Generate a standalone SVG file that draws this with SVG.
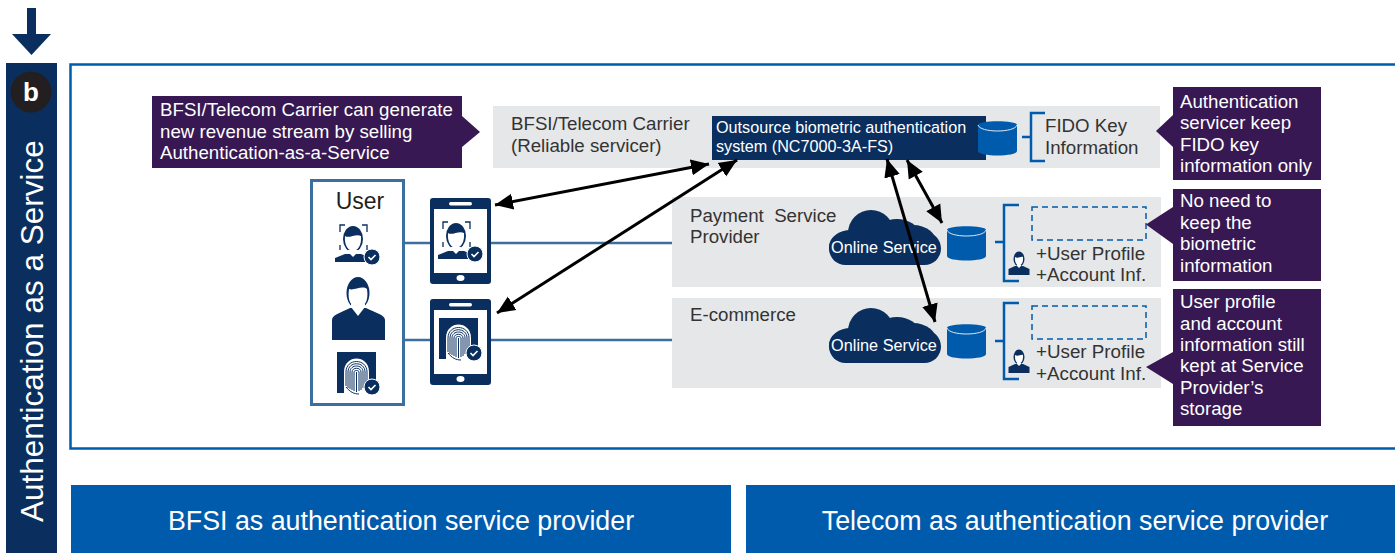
<svg xmlns="http://www.w3.org/2000/svg" width="1395" height="553" viewBox="0 0 1395 553">
<style>
text{font-family:"Liberation Sans",Arial,sans-serif}
.w{fill:#fff}.d{fill:#333}.grey{fill:#e6e7e8}.navy{fill:#0a2f5f}.pur{fill:#371853}.blue{fill:#005bac}
.t18{font-size:18.700px}.t17{font-size:18.800px}.os{font-size:16.300px}.sys{font-size:16.200px}.bot{font-size:26.800px}
.br{fill:none;stroke:#005bac;stroke-width:2.5}
.dash{fill:none;stroke:#005bac;stroke-width:1.5;stroke-dasharray:6 4}
.ar{fill:none;stroke:#000;stroke-width:3;marker-start:url(#ah);marker-end:url(#ah)}
.ln{fill:none;stroke:#3a6fa0;stroke-width:2.5}
</style>
<defs>
<marker id="ah" markerUnits="userSpaceOnUse" markerWidth="20" markerHeight="18" refX="18" refY="8" orient="auto-start-reverse" viewBox="0 0 20 16"><path d="M0 0L18 8L0 16z" fill="#000"/></marker>
<g id="db"><path d="M0 6C0 1 39 1 39 6V32C39 38 0 38 0 32z" class="blue"/><path d="M0 6C2 14 37 14 39 6" fill="none" stroke="#e6e7e8" stroke-width="1"/></g>
<g id="check"><circle r="8" fill="#0a2f5f" stroke="#fff" stroke-width="1"/><path d="M-3.500 0L-1 2.500L3.500-2" fill="none" stroke="#fff" stroke-width="1.600"/></g>
<g id="face"><path d="M-18 17V13L-8 9H8L18 13V17z" class="navy"/><ellipse cx="0" cy="-6" rx="10" ry="13" class="navy"/><path d="M-8-9C-4-6 3-12 8-9C9 1 4 6 0 6C-4 6-9 1-8-9z" fill="#fff"/><path d="M-5 7L0 12L5 7V5H-5z" fill="#fff"/>
<path d="M-13-13V-20H-8M9-20H14V-13M-13 0V5M14 0V5" fill="none" stroke="#0a2f5f" stroke-width="1.300"/></g>
<g id="print"><path d="M-19-24H20V5H-10V17H-19z" class="navy"/><path d="M-12 18V-4C-12-22 13-22 13-4V20H-12z" fill="#fff"/>
<g fill="none" stroke="#0a2f5f" stroke-width="1"><path d="M-10 10V-4C-10-18 11-18 11-4V8"/><path d="M-8 12V-4C-8-15 9-15 9-4V10"/><path d="M-6 13V-4C-6-12 7-12 7-4V12"/><path d="M-4 14V-4C-4-9 5-9 5-4V14"/><path d="M-2 15V-4C-2-6 3-6 3-4V15"/><path d="M0.500-4V16"/><path d="M-10 11C-6 16-2 18 3 18"/></g></g>
<g id="person"><path d="M-10.500 12V6L-4 3H4L10.500 6V12z" class="navy"/><ellipse cx="0" cy="-4" rx="5.500" ry="7.500" class="navy"/><path d="M-4-6C-1-4 2-7 4-6C4.500 0 2 2.500 0 2.500C-2 2.500-4.500 0-4-6z" fill="#fff"/><path d="M-2 3L0 5L2 3V2H-2z" fill="#fff"/></g>
<g id="cloud" class="navy"><rect x="0" y="22" width="112" height="33" rx="16.500"/><circle cx="42" cy="23" r="23"/><ellipse cx="68" cy="24" rx="22" ry="15"/><ellipse cx="84" cy="34" rx="24" ry="19"/><ellipse cx="22" cy="37" rx="22" ry="17"/></g>
<g id="phone"><rect x="0" y="0" width="61" height="86" rx="3" class="navy"/><rect x="4" y="11" width="53" height="64" fill="#fff"/><rect x="19" y="4" width="23" height="3.500" rx="1.700" fill="#fff"/><ellipse cx="30.500" cy="80" rx="4" ry="3" fill="#fff"/></g>
</defs>
<path id="top-arrow" class="navy" d="M27 8H36V34H51L31.500 55L12 34H27z"/>
<g id="sidebar"><rect x="6" y="63" width="51" height="490" class="navy"/><circle cx="31" cy="92" r="20.500" fill="#231f20"/><text x="31" y="101" text-anchor="middle" class="w" font-size="26" font-weight="700">b</text><text transform="translate(43 522) rotate(-90)" class="w" font-size="31.500">Authentication as a Service</text></g>
<rect id="frame" x="70.500" y="64.500" width="1340" height="384" fill="#fff" stroke="#005bac" stroke-width="2.500"/>
<g id="carrier"><rect x="493" y="106" width="667" height="62" class="grey"/><text class="d t18" x="511" y="130">BFSI/Telecom Carrier</text><text class="d t18" x="511" y="152">(Reliable servicer)</text></g>
<g id="payment"><rect x="672" y="197" width="489" height="90" class="grey"/><text class="d t18" x="690" y="222" xml:space="preserve">Payment  Service</text><text class="d t18" x="690" y="243">Provider</text></g>
<g id="ecommerce"><rect x="672" y="298" width="489" height="90" class="grey"/><text class="d t18" x="690" y="321">E-commerce</text></g>
<g id="connectors">
<path class="ln" d="M403 243H430M491 243H672M403 340H430M491 340H672"/>
</g>
<g id="user"><rect x="311.500" y="180.500" width="92" height="224" fill="#fff" stroke="#3a6fa0" stroke-width="3"/><text x="360" y="209" text-anchor="middle" font-size="23" fill="#231f20">User</text>
<use href="#face" x="353" y="245"/><use href="#check" x="372" y="257"/>
<path class="navy" d="M332 340V320C332 315 340 313 350 308H366C376 313 385 315 385 320V340z"/><ellipse cx="358" cy="293" rx="11.500" ry="16" class="navy"/><path d="M349 289C354 291 362 285 367 289C369 302 364 307 358 307C352 307 347 302 349 289z" fill="#fff"/><path d="M351 307L358 316L365 307V304H351z" fill="#fff"/>
<use href="#print" x="356" y="376"/><use href="#check" x="372" y="387"/></g>
<g id="phone-face"><use href="#phone" x="430" y="198"/><use href="#face" x="456" y="242"/><use href="#check" x="475" y="254"/></g>
<g id="phone-print"><use href="#phone" x="430" y="299"/><use href="#print" x="458" y="342"/><use href="#check" x="474" y="353"/></g>
<g id="auth-system"><rect x="712" y="116" width="274" height="44" class="navy"/><text class="w sys" x="716" y="133">Outsource biometric authentication</text><text class="w sys" x="716" y="152">system (NC7000-3A-FS)</text></g>
<g id="fido"><use href="#db" x="978" y="119"/><path class="br" d="M1022 137H1031M1045 113H1031V161H1045"/><text class="d t18" x="1045" y="132">FIDO Key</text><text class="d t18" x="1045" y="154">Information</text></g>
<g id="pay-store"><use href="#cloud" x="829" y="210"/><text class="w os" x="884" y="253" text-anchor="middle">Online Service</text><use href="#db" x="947" y="224"/>
<path class="br" d="M995 242H1004M1019 205H1004V281H1019"/><rect x="1032" y="207" width="114" height="33" class="dash"/><use href="#person" x="1019" y="263"/><text class="d t17" x="1036" y="260">+User Profile</text><text class="d t17" x="1036" y="281">+Account Inf.</text></g>
<g id="ecom-store"><use href="#cloud" x="829" y="308"/><text class="w os" x="884" y="351" text-anchor="middle">Online Service</text><use href="#db" x="947" y="322"/>
<path class="br" d="M995 341H1004M1019 303H1004V379H1019"/><rect x="1032" y="306" width="114" height="33" class="dash"/><use href="#person" x="1019" y="361"/><text class="d t17" x="1036" y="358">+User Profile</text><text class="d t17" x="1036" y="380">+Account Inf.</text></g>
<g id="arrows">
<path class="ar" d="M495 205L709 164"/><path class="ar" d="M497 313L737 160"/><path class="ar" d="M887 159L935 322"/><path class="ar" d="M907 160L942 223"/>
</g>
<g id="callout-left"><path class="pur" d="M152 96H462V116L480 132L462 147V168H152z"/><g class="w t18"><text x="160" y="116">BFSI/Telecom Carrier can generate</text><text x="160" y="138">new revenue stream by selling</text><text x="160" y="159">Authentication-as-a-Service</text></g></g>
<g id="callout-1"><path class="pur" d="M1173 87H1321V180H1173V147L1156 131L1173 115z"/><g class="w t18"><text x="1180" y="108">Authentication</text><text x="1180" y="129">servicer keep</text><text x="1180" y="151">FIDO key</text><text x="1180" y="172">information only</text></g></g>
<g id="callout-2"><path class="pur" d="M1173 189H1321V281H1173V244L1146 224.500L1173 207z"/><g class="w t18"><text x="1180" y="207">No need to</text><text x="1180" y="229">keep the</text><text x="1180" y="250">biometric</text><text x="1180" y="272">information</text></g></g>
<g id="callout-3"><path class="pur" d="M1173 289H1321V426H1173V384L1146 367L1173 352z"/><g class="w t18"><text x="1180" y="308">User profile</text><text x="1180" y="330">and account</text><text x="1180" y="351">information still</text><text x="1180" y="372">kept at Service</text><text x="1180" y="394">Provider’s</text><text x="1180" y="415">storage</text></g></g>
<g id="bfsi"><rect x="71" y="485" width="660" height="68" class="blue"/><text x="401" y="530" text-anchor="middle" class="w bot">BFSI as authentication service provider</text></g>
<g id="telecom"><rect x="746" y="485" width="649" height="68" class="blue"/><text x="1075" y="530" text-anchor="middle" class="w bot">Telecom as authentication service provider</text></g>
</svg>
